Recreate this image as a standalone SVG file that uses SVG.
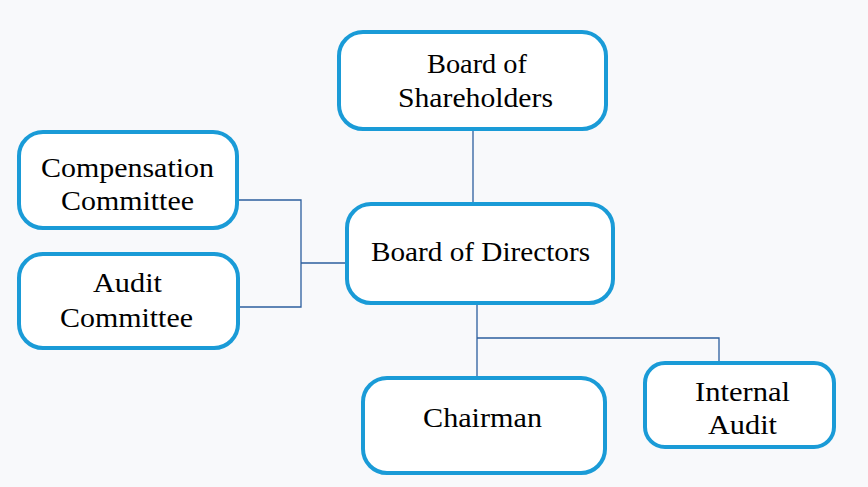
<svg xmlns="http://www.w3.org/2000/svg" width="868" height="487" viewBox="0 0 868 487">
<style>
.box{fill:#ffffff;stroke:#1a9bd7;stroke-width:4}
.lbl{font-family:"Liberation Serif","Times New Roman",serif;font-size:27px;fill:#000;text-anchor:middle}
.con{fill:none;stroke:#2c5f9e;stroke-width:1.3}
</style>
<rect width="868" height="487" fill="#f8f9fb"/>
<g id="connectors">
<path class="con" d="M473 130V204"/>
<path class="con" d="M237 200H301V307H238M301 263H347"/>
<path class="con" d="M477 303V378M477 338H719V363"/>
</g>
<g id="shareholders">
<rect class="box" x="339" y="32" width="267" height="97" rx="24"/>
<text class="lbl" x="477" y="73" textLength="100" lengthAdjust="spacingAndGlyphs">Board of</text>
<text class="lbl" x="475.5" y="107" textLength="155" lengthAdjust="spacingAndGlyphs">Shareholders</text>
</g>
<g id="compensation">
<rect class="box" x="19" y="132" width="218" height="96" rx="24"/>
<text class="lbl" x="127.5" y="177" textLength="173" lengthAdjust="spacingAndGlyphs">Compensation</text>
<text class="lbl" x="127.5" y="210" textLength="133" lengthAdjust="spacingAndGlyphs">Committee</text>
</g>
<g id="audit-committee">
<rect class="box" x="19" y="254" width="219" height="94" rx="24"/>
<text class="lbl" x="127.5" y="292" textLength="69" lengthAdjust="spacingAndGlyphs">Audit</text>
<text class="lbl" x="126.5" y="327" textLength="133" lengthAdjust="spacingAndGlyphs">Committee</text>
</g>
<g id="directors">
<rect class="box" x="347" y="204" width="266" height="99" rx="24"/>
<text class="lbl" x="480.5" y="261" textLength="219" lengthAdjust="spacingAndGlyphs">Board of Directors</text>
</g>
<g id="chairman">
<rect class="box" x="363" y="378" width="242" height="95" rx="24"/>
<text class="lbl" x="482.5" y="427" textLength="119" lengthAdjust="spacingAndGlyphs">Chairman</text>
</g>
<g id="internal-audit">
<rect class="box" x="645" y="363" width="189" height="84" rx="20"/>
<text class="lbl" x="742.5" y="401" textLength="95" lengthAdjust="spacingAndGlyphs">Internal</text>
<text class="lbl" x="742.5" y="434" textLength="69" lengthAdjust="spacingAndGlyphs">Audit</text>
</g>
</svg>
